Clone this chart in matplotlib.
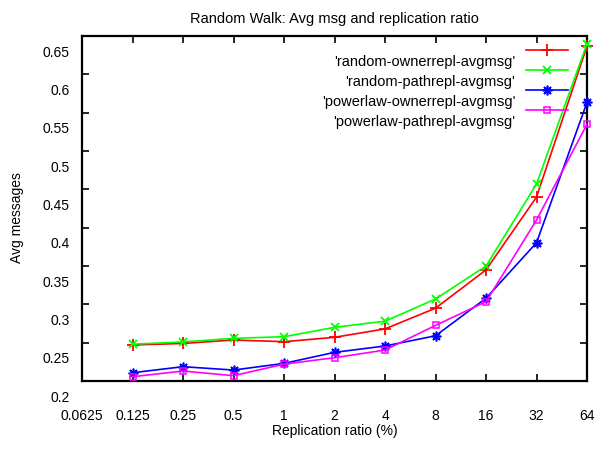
"""Random walk: average messages against replication ratio (gnuplot-style line chart)."""

import matplotlib
matplotlib.use("Agg")
import matplotlib.pyplot as plt
from matplotlib.transforms import ScaledTranslation

RATIOS = [0.125, 0.25, 0.5, 1, 2, 4, 8, 16, 32, 64]
TICK_VALUES = [0.0625, 0.125, 0.25, 0.5, 1, 2, 4, 8, 16, 32, 64]
TICK_LABELS = ["0.0625", "0.125", "0.25", "0.5", "1", "2", "4", "8", "16", "32", "64"]
Y_TICKS = [0.2, 0.25, 0.3, 0.35, 0.4, 0.45, 0.5, 0.55, 0.6, 0.65]
Y_TICK_LABELS = ["0.2", "0.25", "0.3", "0.35", "0.4", "0.45", "0.5", "0.55", "0.6", "0.65"]

random_owner = [0.247, 0.249, 0.2535, 0.2513, 0.257, 0.268, 0.295, 0.345, 0.440, 0.637]
random_path = [0.248, 0.251, 0.2557, 0.2578, 0.270, 0.278, 0.307, 0.350, 0.457, 0.640]
powerlaw_owner = [0.2108, 0.2187, 0.2143, 0.223, 0.2374, 0.2457, 0.259, 0.308, 0.3804, 0.5635]
powerlaw_path = [0.2056, 0.213, 0.207, 0.222, 0.2304, 0.2404, 0.2726, 0.3035, 0.410, 0.535]

SERIES = [
    ("'random-ownerrepl-avgmsg'", random_owner),
    ("'random-pathrepl-avgmsg'", random_path),
    ("'powerlaw-ownerrepl-avgmsg'", powerlaw_owner),
    ("'powerlaw-pathrepl-avgmsg'", powerlaw_path),
]

STYLES = [
    dict(color="#ff0000", marker="+", markersize=8, markeredgewidth=1.3),
    dict(color="#00ff00", marker="x", markersize=5.5, markeredgewidth=1.3),
    dict(color="#0000ff", marker=(8, 2, 0), markersize=7, markeredgewidth=1.2),
    dict(color="#ff00ff", marker="s", markersize=5, markeredgewidth=1.1, markerfacecolor="none"),
]

plt.rcParams.update({
    "font.family": ["Liberation Sans", "DejaVu Sans"],
    "font.size": 10,
})

fig = plt.figure(figsize=(5.97, 4.55), dpi=100)
ax = fig.add_axes([0.1374, 0.1626, 0.8459, 0.7582])

for (label, values), style in zip(SERIES, STYLES):
    ax.plot(RATIOS, values, linewidth=1.2, clip_on=False, zorder=4, **style)

ax.set_xscale("log", base=2)
ax.set_xlim(TICK_VALUES[0], TICK_VALUES[-1])
ax.set_ylim(Y_TICKS[0], Y_TICKS[-1])
ax.set_xticks(TICK_VALUES)
ax.set_xticklabels(TICK_LABELS)
ax.minorticks_off()
ax.set_yticks(Y_TICKS)
ax.set_yticklabels(Y_TICK_LABELS)

ax.tick_params(direction="in", length=5, width=1.2, top=True, right=True, color="black")
ax.tick_params(axis="x", pad=20)
ax.tick_params(axis="y", pad=9)
for spine in ax.spines.values():
    spine.set_linewidth(1.6)

# gnuplot output draws all text a little below its anchor
shift = ScaledTranslation(0, -11 / 72, fig.dpi_scale_trans)
for lbl in ax.get_yticklabels():
    lbl.set_transform(lbl.get_transform() + shift)

ax.set_xlabel("Replication ratio (%)")
ax.xaxis.set_label_coords(0.5, -0.125)
ax.set_ylabel("Avg messages")
ax.yaxis.set_label_coords(-0.115, 0.475)
ax.set_title("Random Walk: Avg msg and replication ratio", y=1.026, va="center", fontsize=10.5)

# hand-drawn key, labels to the left of the samples
row_y = [0.959, 0.901, 0.843, 0.786]
for (label, _), style, y in zip(SERIES, STYLES, row_y):
    ax.plot([0.879, 0.962], [y, y], transform=ax.transAxes, linewidth=1.2,
            color=style["color"], clip_on=False, zorder=5)
    ax.plot([0.921], [y], transform=ax.transAxes, linestyle="none", clip_on=False,
            zorder=5, **style)
    ax.text(0.858, y - 0.035, label, transform=ax.transAxes, ha="right", va="center",
            fontsize=10.5)

fig.savefig("out.png", dpi=100)
